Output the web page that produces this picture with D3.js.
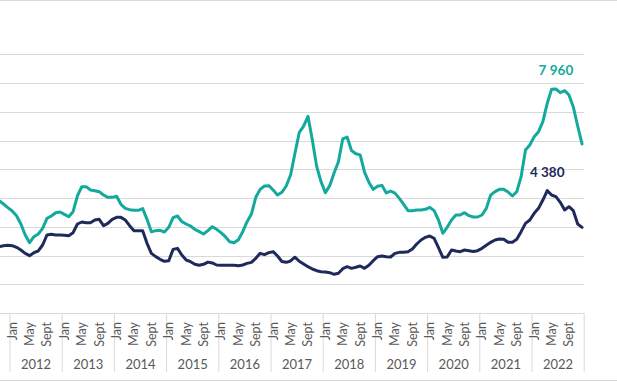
<!DOCTYPE html>
<html>
<head>
<meta charset="utf-8">
<script src="https://cdn.jsdelivr.net/npm/d3@7"></script>
<style>
  html, body { margin: 0; padding: 0; background: #fff; }
  svg { display: block; }
</style>
</head>
<body>
<div id="chart"></div>
<script>
// categories
const years = [2011, 2012, 2013, 2014, 2015, 2016, 2017, 2018, 2019, 2020, 2021, 2022]
const tickMonths = [0, 4, 8]
const tickNames = ['Jan', 'May', 'Sept']

// series start at Oct 2011 (month index 9 of the first year)
const seriesStart = 9

const tealValues = [
  3906, 3791, 3664,
  3548, 3385, 3096, 2713, 2446, 2655, 2748, 2945, 3293, 3374, 3489, 3513,
  3432, 3350, 3525, 4070, 4394, 4394, 4278, 4255, 4220, 4104, 4023, 4023,
  4060, 3780, 3640, 3594, 3571, 3571, 3629, 3258, 2829, 2864, 2875, 2817,
  2980, 3316, 3374, 3177, 3096, 3026, 2910, 2829, 2748, 2864, 3003, 2910,
  2794, 2655, 2481, 2446, 2550, 2829, 3177, 3443, 4023, 4301, 4417, 4429,
  4278, 4104, 4197, 4417, 4800, 5550, 6280, 6500, 6840, 6017, 5100, 4570,
  4180, 4430, 4870, 5260, 6060, 6120, 5650, 5540, 5500, 4900, 4550, 4300,
  4410, 4440, 4175, 4243, 4170, 3988, 3780, 3559, 3559, 3582, 3582, 3606,
  3675, 3559, 3235, 2771, 2980, 3235, 3409, 3409, 3489, 3385, 3340, 3339,
  3409, 3640, 4104, 4220, 4301, 4301, 4209, 4070, 4220, 4742, 5670, 5843,
  6133, 6307, 6655, 7293, 7780, 7791, 7664, 7733, 7583, 7165, 6504, 5880,
]

const navyValues = [
  2307, 2342, 2354,
  2342, 2284, 2191, 2075, 1994, 2099, 2157, 2365, 2713, 2736, 2713, 2713,
  2701, 2690, 2794, 3096, 3165, 3142, 3142, 3235, 3258, 3038, 3119, 3258,
  3327, 3327, 3235, 3038, 2864, 2864, 2864, 2423, 2075, 1960, 1867, 1797,
  1820, 2214, 2249, 2017, 1843, 1786, 1693, 1658, 1693, 1770, 1740, 1670,
  1658, 1658, 1658, 1658, 1646, 1670, 1727, 1762, 1902, 2075, 2029, 2099,
  2133, 1983, 1790, 1762, 1810, 1940, 1800, 1705, 1611, 1530, 1472, 1437,
  1426, 1403, 1345, 1380, 1542, 1611, 1553, 1590, 1635, 1553, 1658, 1820,
  1960, 1983, 1960, 1948, 2075, 2110, 2110, 2133, 2226, 2400, 2539, 2632,
  2678, 2597, 2272, 1936, 1948, 2191, 2157, 2133, 2191, 2168, 2140, 2168,
  2249, 2354, 2458, 2539, 2574, 2562, 2458, 2458, 2562, 2829, 3119, 3235,
  3467, 3640, 3930, 4255, 4104, 4046, 3849, 3582, 3698, 3559, 3096, 2980,
]

const peakLabels = ['7 960', '4 380']

const width = 617
const height = 381
const tealColor = '#14a99d'
const navyColor = '#1f2a5c'
const gridColor = '#d9d9d9'
const textColor = '#595959'
const font = 'Lato, "Liberation Sans", sans-serif'

// plot area (left side of the original chart is cut off)
const plot = { left: -42.2, right: 584.2, top: 54.25, bottom: 313 }

const svg = d3
  .select('#chart')
  .append('svg')
  .attr('width', width)
  .attr('height', height)

const monthCount = years.length * 12
const x = d3
  .scaleBand()
  .domain(d3.range(monthCount))
  .range([plot.left, plot.right])
  .padding(0)
const xc = i => x(i) + x.bandwidth() / 2

const y = d3.scaleLinear().domain([0, 9000]).range([plot.bottom, plot.top])

// frame lines
svg
  .selectAll('.frame')
  .data([0.5, 380.5])
  .join('line')
  .attr('class', 'frame')
  .attr('x1', 0)
  .attr('x2', width)
  .attr('y1', d => d)
  .attr('y2', d => d)
  .attr('stroke', gridColor)
  .attr('stroke-width', 1)

// gridlines + baseline
svg
  .append('g')
  .selectAll('line')
  .data(d3.range(0, 9001, 1000))
  .join('line')
  .attr('x1', 0)
  .attr('x2', plot.right)
  .attr('y1', d => Math.round(y(d)) + 0.5)
  .attr('y2', d => Math.round(y(d)) + 0.5)
  .attr('stroke', gridColor)
  .attr('stroke-width', 1.2)

// year separators
const yearEdges = d3.range(years.length + 1).map(i => x.range()[0] + i * 12 * x.bandwidth())
svg
  .append('g')
  .selectAll('line')
  .data(yearEdges)
  .join('line')
  .attr('x1', d => d)
  .attr('x2', d => d)
  .attr('y1', plot.bottom)
  .attr('y2', 372)
  .attr('stroke', gridColor)
  .attr('stroke-width', 1)

// month tick labels (only those that reach into the visible area)
const monthTicks = years
  .flatMap((yr, yi) => tickMonths.map((m, k) => ({ idx: yi * 12 + m, name: tickNames[k] })))
  .filter(d => xc(d.idx) + 4 > 0)
svg
  .append('g')
  .selectAll('text')
  .data(monthTicks)
  .join('text')
  .attr('transform', d => `translate(${xc(d.idx) + 4.5},${plot.bottom + 9}) rotate(-90)`)
  .attr('text-anchor', 'end')
  .attr('font-family', font)
  .attr('font-size', '12.5px')
  .attr('fill', textColor)
  .text(d => d.name)

// year labels
const yearLabels = years
  .map((yr, i) => ({ yr, cx: (yearEdges[i] + yearEdges[i + 1]) / 2 }))
  .filter(d => d.cx > 0)
svg
  .append('g')
  .selectAll('text')
  .data(yearLabels)
  .join('text')
  .attr('x', d => d.cx)
  .attr('y', 369)
  .attr('text-anchor', 'middle')
  .attr('font-family', font)
  .attr('font-size', '13px')
  .attr('fill', textColor)
  .text(d => d.yr)

// lines
const line = d3
  .line()
  .x((d, i) => xc(seriesStart + i))
  .y(d => y(d))

const series = [
  { values: tealValues, color: tealColor },
  { values: navyValues, color: navyColor },
]

svg
  .append('g')
  .selectAll('path')
  .data(series)
  .join('path')
  .attr('d', d => line(d.values))
  .attr('fill', 'none')
  .attr('stroke', d => d.color)
  .attr('stroke-width', 3)
  .attr('stroke-linejoin', 'round')
  .attr('stroke-linecap', 'round')

// peak labels
svg
  .append('g')
  .selectAll('text')
  .data(series)
  .join('text')
  .attr('x', d => xc(seriesStart + d3.maxIndex(d.values)))
  .attr('y', d => y(d3.max(d.values)) - 14)
  .attr('text-anchor', 'middle')
  .attr('font-family', font)
  .attr('font-weight', 'bold')
  .attr('font-size', '13.5px')
  .attr('fill', d => d.color)
  .text((d, i) => peakLabels[i])
</script>
</body>
</html>
